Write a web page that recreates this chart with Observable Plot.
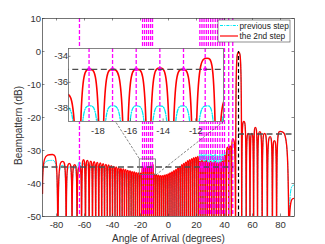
<!DOCTYPE html>
<html><head><meta charset="utf-8">
<script src="https://cdn.jsdelivr.net/npm/d3@7"></script>
<script src="https://cdn.jsdelivr.net/npm/@observablehq/plot@0.6"></script>
<style>
body{margin:0;background:#fff;}
#wrap{position:relative;width:325px;height:244px;overflow:hidden;}
#wrap svg{position:absolute;left:0;top:0;}
</style></head><body><div id="wrap"></div>
<script>
// ---------- data ----------
const xTicks = [-80, -60, -40, -20, 0, 20, 40, 60, 80];
const yTicks = [-50, -40, -30, -20, -10, 0, 10];
const insetXTicks = [-18, -16, -14, -12];
const insetYTicks = [-38, -36, -34];
const xDomain = [-90, 90];
const yDomain = [-50, 10];
const insetXDomain = [-19.8, -10.3];
const insetYDomain = [-39, -33.4];
const zoomBoxX = [-20.5, -9.0];
const zoomBoxY = [-32.7, -37.4];
const insetBoxX = [-71.4, 39.3];
const insetBoxY = [0.9, -21.2];
const targetAng = [50];
const targetTop = [0];
const threshY = [-35, -25];
const threshX1 = [-90, 50];
const threshX2 = [46.5, 90];
const constraintAng = [-63.6, -18.54, -17.1, -15.65, -14.2, -12.75, -11.42,
  22.4, 23.9, 25.4, 27.0, 28.5, 30.1, 31.7, 33.4, 35.0, 36.7, 38.5, 40.0, 43.0, 45.9];
const constraintLevel = -35;

// sidelobe peak angles (deg)
const peakAng = [
  -82.9, -75.5, -70.8, -67.0, -63.6, -60.7, -58.0, -55.5, -53.1, -50.9,
  -48.7, -46.7, -44.7, -42.8, -40.9, -39.1, -37.4, -35.6, -34.0, -32.3,
  -30.7, -29.1, -27.5, -26.0, -24.5, -23.0, -21.5, -20.0, -18.5, -17.1,
  -15.6, -14.2, -12.8, -11.3, -10.0, -8.6, -7.2, -5.8, -4.4, -3.0,
  -1.6, -0.2, 1.1, 2.5, 3.9, 5.3, 6.7, 8.1, 9.5, 10.9,
  12.3, 13.7, 15.1, 16.6, 18.0, 19.5, 20.9, 22.4, 23.9, 25.4,
  27.0, 28.5, 30.1, 31.7, 33.4, 35.0, 36.7, 38.5, 40.3, 42.1,
  44.0, 45.9,
  50.1,
  53.8, 57.0, 59.5, 62.0, 65.2, 68.6, 72.6, 75.6, 79.6];
// nulls following each peak (deg)
const nullAng = [
  -79.0, -73.1, -68.9, -65.3, -62.1, -59.3, -56.7, -54.3, -52.0, -49.8,
  -47.7, -45.7, -43.7, -41.8, -40.0, -38.2, -36.5, -34.8, -33.1, -31.5,
  -29.9, -28.3, -26.7, -25.2, -23.7, -22.2, -20.7, -19.2, -17.8, -16.3,
  -14.9, -13.5, -12.1, -10.7, -9.3, -7.9, -6.5, -5.1, -3.7, -2.3,
  -0.9, 0.4, 1.8, 3.2, 4.6, 6.0, 7.4, 8.8, 10.2, 11.6,
  13.0, 14.4, 15.8, 17.3, 18.7, 20.2, 21.6, 23.1, 24.6, 26.2,
  27.7, 29.3, 30.9, 32.5, 34.2, 35.8, 37.6, 39.4, 41.2, 43.0,
  44.9, 47.9,
  52.3,
  55.5, 58.2, 60.8, 63.6, 66.9, 70.6, 74.2, 77.2, 86.0];
// "the 2nd step" peak levels (dB)
const redPeak = [
  -31.2, -33.3, -33.9, -34.3, -35.0, -32.8, -33.0, -33.2, -33.4, -33.6,
  -33.8, -34.0, -34.2, -34.4, -34.6, -34.8, -35.0, -35.2, -35.4, -35.6,
  -35.8, -36.0, -36.2, -36.4, -36.5, -36.7, -36.8, -36.9, -35.0, -35.0,
  -35.0, -34.9, -35.0, -34.15, -37.2, -37.4, -37.5, -37.6, -37.6, -37.5,
  -37.3, -37.1, -36.8, -36.5, -36.1, -35.7, -35.2, -34.8, -34.3, -33.9,
  -33.5, -33.1, -32.8, -32.5, -32.2, -32.0, -31.8, -33.2, -33.0, -33.4,
  -33.1, -33.6, -33.3, -33.7, -33.4, -33.8, -33.5, -33.2, -31.5, -29.0,
  -28.6, -26.5,
  -0.2,
  -21.2, -24.8, -24.8, -23.0, -24.3, -24.8, -25.8, -27.0, -24.2];
// "previous step" peak levels (dB)
const cyanPeak = [
  -33.0, -34.5, -35.0, -35.3, -33.5, -34.0, -34.2, -34.4, -34.6, -34.8,
  -35.0, -35.2, -35.4, -35.6, -35.8, -36.0, -36.2, -36.4, -36.6, -36.8,
  -37.0, -37.2, -37.3, -37.5, -37.6, -37.7, -37.8, -37.9, -37.8, -37.8,
  -37.8, -37.8, -37.8, -37.8, -38.2, -38.4, -38.5, -38.6, -38.6, -38.5,
  -38.3, -38.0, -37.7, -37.4, -37.0, -36.6, -36.2, -35.8, -35.3, -34.9,
  -34.5, -34.1, -33.8, -33.5, -33.2, -33.0, -32.8, -31.0, -30.8, -31.2,
  -30.9, -31.3, -31.0, -31.4, -31.1, -31.5, -31.2, -31.0, -30.5, -30.0,
  -30.2, -28.0,
  -0.3,
  -21.5, -25.0, -25.2, -23.3, -24.6, -25.0, -26.2, -27.2, -24.3];
const edgeAng = [-90, 90];
const redEdge = [-43.0, -44.5];
const cyanEdge = [-40.5, -40.5];
const redNull = -72;
const cyanNull = -72;
const legendLabels = ["previous step", "the 2nd step"];
const xTitle = "Angle of Arrival (degrees)";
const yTitle = "Beampattern (dB)";

// ---------- helpers ----------
function series(peaks, edges, nullDb) {
  const pts = [{x: edgeAng[0], y: edges[0]}];
  peakAng.forEach((a, i) => {
    pts.push({x: a, y: peaks[i]});
    pts.push({x: nullAng[i], y: nullDb});
  });
  pts.push({x: edgeAng[1], y: edges[1]});
  return pts;
}
const redPts = series(redPeak, redEdge, redNull);
const cyanPts = series(cyanPeak, cyanEdge, cyanNull);

// lobe-shaped curve: steep at nulls, rounded at peaks
const B = 0.2;
function lobeCurve(context) {
  let pts = [];
  return {
    areaStart() {}, areaEnd() {},
    lineStart() { pts = []; },
    point(x, y) { pts.push([+x, +y]); },
    lineEnd() {
      if (!pts.length) return;
      context.moveTo(pts[0][0], pts[0][1]);
      for (let i = 1; i < pts.length; i++) {
        const [x0, y0] = pts[i - 1], [x1, y1] = pts[i];
        if (y1 <= y0) context.bezierCurveTo(x0, y1, x0 + B * (x1 - x0), y1, x1, y1);
        else context.bezierCurveTo(x1 - B * (x1 - x0), y0, x1, y0, x1, y1);
      }
    }
  };
}
const fmt = d => String(d);
const FONT = "'Liberation Sans', Arial, Helvetica, sans-serif";
const CYAN = "#00e8f4", RED = "#ff0000", MAG = "#ff00ff", AX = "#3a3a3a";

const W = 325, H = 244, mL = 42, mR = 31, mT = 18, mB = 28;
const pW = W - mL - mR, pH = H - mT - mB;
const thresh = threshY.map((y, i) => ({y, x1: threshX1[i], x2: threshX2[i]}));
const links = [
  {x1: insetBoxX[0], y1: insetBoxY[0], x2: zoomBoxX[0], y2: zoomBoxY[0]},
  {x1: insetBoxX[1], y1: insetBoxY[1], x2: zoomBoxX[1], y2: zoomBoxY[1]}
];

const main = Plot.plot({
  width: W, height: H, marginLeft: mL, marginRight: mR, marginTop: mT, marginBottom: mB,
  style: {fontFamily: FONT, fontSize: "9.5px", color: "#333", background: "white"},
  x: {domain: xDomain, ticks: xTicks, tickSize: 0, tickPadding: 5, tickFormat: fmt, label: null},
  y: {domain: yDomain, ticks: yTicks, tickSize: 0, tickPadding: 1.5, tickFormat: fmt, label: null},
  marks: [
    Plot.line(cyanPts, {x: "x", y: "y", stroke: CYAN, strokeWidth: 1, strokeDasharray: "4,1.5,1,1.5", curve: lobeCurve, clip: true}),
    Plot.line(redPts, {x: "x", y: "y", stroke: RED, strokeWidth: 1.35, curve: lobeCurve, clip: true}),
    Plot.ruleX(constraintAng, {x: d => d, stroke: MAG, strokeWidth: 1.3, strokeDasharray: "4,2"}),
    Plot.dot(constraintAng, {x: d => d, y: () => constraintLevel, r: 1.2, fill: MAG, stroke: "none"}),
    Plot.ruleY(thresh, {y: "y", x1: "x1", x2: "x2", stroke: "#4d4d4d", strokeWidth: 1.3, strokeDasharray: "6,3.5"}),
    Plot.ruleX(targetAng, {x: d => d, y1: yDomain[0], y2: (d, i) => targetTop[i], stroke: "#000", strokeWidth: 1.2, strokeDasharray: "4,2.5"}),
    Plot.rect([0], {x1: () => zoomBoxX[0], x2: () => zoomBoxX[1], y1: () => zoomBoxY[0], y2: () => zoomBoxY[1], fill: "none", stroke: "#707070", strokeWidth: 0.8}),
    Plot.link(links, {x1: "x1", y1: "y1", x2: "x2", y2: "y2", stroke: "#333", strokeWidth: 0.6, strokeDasharray: "2.5,1.5"}),
    Plot.ruleX(xTicks, {x: d => d, stroke: AX, strokeWidth: 0.6, insetTop: pH - 2.5}),
    Plot.ruleX(xTicks, {x: d => d, stroke: AX, strokeWidth: 0.6, insetBottom: pH - 2.5}),
    Plot.ruleY(yTicks, {y: d => d, stroke: AX, strokeWidth: 0.6, insetRight: pW - 2.5}),
    Plot.ruleY(yTicks, {y: d => d, stroke: AX, strokeWidth: 0.6, insetLeft: pW - 2.5}),
    Plot.frame({stroke: AX, strokeWidth: 0.7}),
    Plot.text([xTitle], {text: d => d, frameAnchor: "bottom", textAnchor: "middle", lineAnchor: "middle", dy: 22.5, fontSize: 10, fill: "#333"}),
    Plot.text([yTitle], {text: d => d, frameAnchor: "left", textAnchor: "middle", lineAnchor: "middle", rotate: -90, dx: -24, dy: 8, fontSize: 10, fill: "#333"})
  ]
});
const wrap = document.getElementById("wrap");
wrap.appendChild(main);

// legend
const svg = d3.select(main);
const lg = svg.append("g").attr("font-family", FONT).attr("font-size", "8.3px").attr("fill", "#222").attr("text-anchor", "start");
lg.append("rect").attr("x", 218).attr("y", 20).attr("width", 72).attr("height", 22)
  .attr("fill", "white").attr("stroke", "#444").attr("stroke-width", 0.6);
lg.append("line").attr("x1", 220).attr("x2", 238).attr("y1", 25.5).attr("y2", 25.5)
  .attr("stroke", CYAN).attr("stroke-width", 1).attr("stroke-dasharray", "3,1.2,1,1.2");
lg.append("line").attr("x1", 220).attr("x2", 238).attr("y1", 36).attr("y2", 36)
  .attr("stroke", "#ff5a5a").attr("stroke-width", 1.8);
lg.append("text").attr("x", 239.5).attr("y", 28.6).attr("text-anchor", "start").text(legendLabels[0]);
lg.append("text").attr("x", 239.5).attr("y", 39).attr("text-anchor", "start").text(legendLabels[1]);

// inset
const sx = main.scale("x"), sy = main.scale("y");
const ix0 = sx.apply(insetBoxX[0]), ix1 = sx.apply(insetBoxX[1]);
const iy0 = sy.apply(insetBoxY[0]), iy1 = sy.apply(insetBoxY[1]);
const imL = 24, imR = 2, imT = 2, imB = 18;
const iW = ix1 - ix0, iH = iy1 - iy0;
const inset = Plot.plot({
  width: iW + imL + imR, height: iH + imT + imB,
  marginLeft: imL, marginRight: imR, marginTop: imT, marginBottom: imB,
  style: {fontFamily: FONT, fontSize: "9.5px", color: "#333", background: "transparent", overflow: "visible"},
  x: {domain: insetXDomain, ticks: insetXTicks, tickSize: 0, tickPadding: 6, tickFormat: fmt, label: null},
  y: {domain: insetYDomain, ticks: insetYTicks, tickSize: 0, tickPadding: 0.5, tickFormat: fmt, label: null},
  marks: [
    Plot.frame({fill: "white"}),
    Plot.line(cyanPts, {x: "x", y: "y", stroke: CYAN, strokeWidth: 1.3, strokeDasharray: "4,1.5,1,1.5", curve: lobeCurve, clip: true}),
    Plot.line(redPts, {x: "x", y: "y", stroke: RED, strokeWidth: 1.6, curve: lobeCurve, clip: true}),
    Plot.ruleX(constraintAng, {x: d => d, stroke: MAG, strokeWidth: 1.3, strokeDasharray: "4,2", clip: true}),
    Plot.dot(constraintAng, {x: d => d, y: () => constraintLevel, r: 2, fill: MAG, stroke: "none", clip: true}),
    Plot.ruleY(thresh, {y: "y", x1: "x1", x2: "x2", stroke: "#4d4d4d", strokeWidth: 1.3, strokeDasharray: "6,3.5", clip: true}),
    Plot.ruleX(insetXTicks, {x: d => d, stroke: AX, strokeWidth: 0.6, insetTop: iH - 2.5}),
    Plot.ruleY(insetYTicks, {y: d => d, stroke: AX, strokeWidth: 0.6, insetRight: iW - 2.5}),
    Plot.frame({stroke: "#666", strokeWidth: 0.8})
  ]
});
inset.style.left = (ix0 - imL) + "px";
inset.style.top = (iy0 - imT) + "px";
wrap.appendChild(inset);
</script></body></html>
